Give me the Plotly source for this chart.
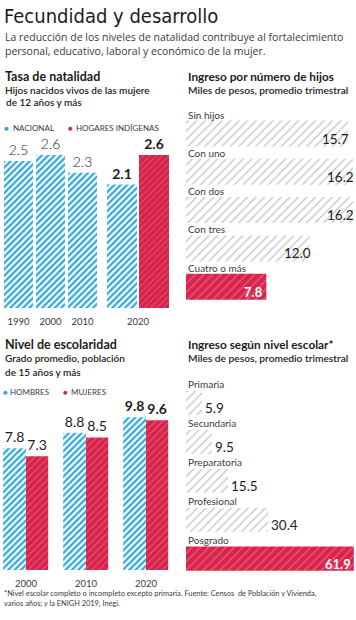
import plotly.graph_objects as go

# ---------------- data ----------------
nat_years = ["1990", "2000", "2010", "2020"]
nat_nacional = [2.5, 2.6, 2.3, 2.1]
nat_ind_years = ["2020"]
nat_indigena = [2.6]

hijos_cats = ["Sin hijos", "Con uno", "Con dos", "Con tres", "Cuatro o más"]
hijos_ingreso = [15.7, 16.2, 16.2, 12.0, 7.8]

esc_years = ["2000", "2010", "2020"]
esc_hombres = [7.8, 8.8, 9.8]
esc_mujeres = [7.3, 8.5, 9.6]

nivel_cats = ["Primaria", "Secundaria", "Preparatoria", "Profesional", "Posgrado"]
nivel_ingreso = [5.9, 9.5, 15.5, 30.4, 61.9]

# ---------------- style ----------------
W, H = 356, 620
def fx(p): return p / W
def fy(p): return 1 - p / H

CYAN = "#2ea8dc"
RED = "#d8234a"
RED_STRIPE = "#e8607d"
GRAY_STRIPE = "#c2c2c2"
TXT = "#1c1c1c"
SUB = "#3a3a3a"
FONT = "Lato"
SUBFONT = "Open Sans"
TITLE_FONT = "Liberation Sans Narrow, DejaVu Sans Condensed, DejaVu Sans, sans-serif"

def cyan_marker():
    return dict(color="white", line=dict(width=0),
                pattern=dict(shape="/", fgcolor=CYAN, bgcolor="white", size=4.5,
                             solidity=0.5, fillmode="replace"))

def red_marker(size=5):
    return dict(color=RED, line=dict(width=0),
                pattern=dict(shape="/", fgcolor=RED_STRIPE, bgcolor=RED, size=size,
                             solidity=0.2, fillmode="replace"))

def gray_marker(size=6):
    return dict(color="white", line=dict(width=0),
                pattern=dict(shape="/", fgcolor=GRAY_STRIPE, bgcolor="white", size=size,
                             solidity=0.2, fillmode="replace"))

def label_text(vals, bold_idx):
    return [f"<b>{v:.1f}</b>" if i in bold_idx else f"{v:.1f}" for i, v in enumerate(vals)]

fig = go.Figure()

# ---- Tasa de natalidad ----
n_hist = len(nat_years) - 1
fig.add_trace(go.Bar(
    x=nat_years[:n_hist], y=nat_nacional[:n_hist], xaxis="x", yaxis="y",
    width=0.906, offset=-0.453, marker=cyan_marker(),
    text=label_text(nat_nacional[:n_hist], []), textposition="outside",
    textfont=dict(family=FONT, size=14, color=TXT, weight=300),
    constraintext="none", cliponaxis=False, showlegend=False, hoverinfo="skip"))
fig.add_trace(go.Bar(
    x=nat_years[n_hist:], y=nat_nacional[n_hist:], xaxis="x2", yaxis="y",
    width=0.9375, offset=-0.969, marker=cyan_marker(),
    text=label_text(nat_nacional[n_hist:], [0]), textposition="outside",
    textfont=dict(family=FONT, size=14, color=TXT),
    constraintext="none", cliponaxis=False, showlegend=False, hoverinfo="skip"))
fig.add_trace(go.Bar(
    x=nat_ind_years, y=nat_indigena, xaxis="x2", yaxis="y",
    width=0.9375, offset=0.031, marker=red_marker(4.5),
    text=label_text(nat_indigena, [0]), textposition="outside",
    textfont=dict(family=FONT, size=14, color=TXT),
    constraintext="none", cliponaxis=False, showlegend=False, hoverinfo="skip"))

# ---- Nivel de escolaridad ----
last = len(esc_years) - 1
fig.add_trace(go.Bar(
    x=esc_years, y=esc_hombres, xaxis="x3", yaxis="y3",
    width=0.38, offset=-0.38, marker=cyan_marker(),
    text=label_text(esc_hombres, [last]), textposition="outside",
    textfont=dict(family=FONT, size=14, color=TXT),
    constraintext="none", cliponaxis=False, showlegend=False, hoverinfo="skip"))
fig.add_trace(go.Bar(
    x=esc_years, y=esc_mujeres, xaxis="x3", yaxis="y3",
    width=0.37, offset=0.0, marker=red_marker(5),
    text=label_text(esc_mujeres, [last]), textposition="outside",
    textfont=dict(family=FONT, size=14, color=TXT),
    constraintext="none", cliponaxis=False, showlegend=False, hoverinfo="skip"))

# ---- horizontal bars (gray for all but last, red for last) ----
def hbars(cats, vals, xa, ya, width):
    fig.add_trace(go.Bar(x=vals[:-1], y=cats[:-1], orientation="h", xaxis=xa, yaxis=ya,
                         width=width, marker=gray_marker(6), showlegend=False, hoverinfo="skip"))
    fig.add_trace(go.Bar(x=vals[-1:], y=cats[-1:], orientation="h", xaxis=xa, yaxis=ya,
                         width=width, marker=red_marker(6), showlegend=False, hoverinfo="skip"))

hbars(hijos_cats, hijos_ingreso, "x4", "y4", 0.68)
hbars(nivel_cats, nivel_ingreso, "x5", "y5", 0.62)

ann = []
def A(text, x, y, size, color=TXT, weight=None, family=FONT, xanchor="left", yanchor="middle"):
    f = dict(family=family, size=size, color=color)
    if weight:
        f["weight"] = weight
    ann.append(dict(text=text, x=fx(x), y=fy(y), xref="paper", yref="paper",
                    xanchor=xanchor, yanchor=yanchor, showarrow=False, font=f, align="left"))

# header
A("Fecundidad y desarrollo", 2, 16, 20, TXT, family=TITLE_FONT)
A("La reducción de los niveles de natalidad contribuye al fortalecimiento<br>"
  "personal, educativo, laboral y económico de la mujer.", 3, 44, 10.5, SUB, family=SUBFONT)

# left top
A("Tasa de natalidad", 3, 77, 12.5, TXT, weight="bold")
A("Hijos nacidos vivos de las mujere", 3, 90, 10, TXT, weight=600)
A("de 12 años y más", 4, 102, 10, TXT, weight=600)
A("●", 2, 128, 8, CYAN)
A("NACIONAL", 11, 128, 8, SUB)
A("●", 66, 128, 8, RED)
A("HOGARES INDÍGENAS", 74, 128, 8, SUB)

# right top
A("Ingreso por número de hijos", 186, 77, 11.8, TXT, weight="bold")
A("Miles de pesos, promedio trimestral", 186, 90, 10.2, TXT, weight=600)

# left bottom
A("Nivel de escolaridad", 3, 344, 12.5, TXT, weight="bold")
A("Grado promedio, población", 3, 358, 10, TXT, weight=600)
A("de 15 años y más", 3, 372, 10, TXT, weight=600)
A("●", 1, 392, 8, CYAN)
A("HOMBRES", 8, 392, 8, SUB)
A("●", 61, 392, 8, RED)
A("MUJERES", 69, 392, 8, SUB)

# right bottom
A("Ingreso según nivel escolar*", 186, 344, 11.8, TXT, weight="bold")
A("Miles de pesos, promedio trimestral", 186, 358, 10.2, TXT, weight=600)

# footnote
A("*Nivel escolar completo o incompleto excepto primaria. Fuente: Censos  de Población y Vivienda,<br>"
  "varios años; y la ENIGH 2019, Inegi.", 2, 598, 7.4, SUB)

# category labels and values on horizontal charts
def hlabels(cats, vals, xa, ya, inside_first):
    n = len(cats)
    for i, (c, v) in enumerate(zip(cats, vals)):
        ann.append(dict(text=c, x=0, y=c, xref=xa, yref=ya, xanchor="left", yanchor="middle",
                        xshift=0, yshift=19, showarrow=False,
                        font=dict(family=FONT, size=10, color=SUB)))
        if i == n - 1:
            ann.append(dict(text=f"<b>{v:.1f}</b>", x=v, y=c, xref=xa, yref=ya, xanchor="right",
                            yanchor="middle", xshift=-1, yshift=-5, showarrow=False,
                            font=dict(family=FONT, size=13, color="white")))
        elif inside_first:
            ann.append(dict(text=f"{v:.1f}", x=v, y=c, xref=xa, yref=ya, xanchor="right",
                            yanchor="middle", xshift=3, yshift=-5, showarrow=False,
                            font=dict(family=FONT, size=13.5, color=TXT)))
        else:
            ann.append(dict(text=f"{v:.1f}", x=v, y=c, xref=xa, yref=ya, xanchor="left",
                            yanchor="middle", xshift=1, yshift=-5, showarrow=False,
                            font=dict(family=FONT, size=13.5, color=TXT)))

hlabels(hijos_cats, hijos_ingreso, "x4", "y4", True)
hlabels(nivel_cats, nivel_ingreso, "x5", "y5", False)

tick_common = dict(type="category", showgrid=False, zeroline=False, showline=False,
                   ticks="outside", ticklen=5, tickcolor="rgba(0,0,0,0)",
                   tickfont=dict(family=FONT, size=9.5, color=SUB), fixedrange=True)
hidden = dict(visible=False, showgrid=False, zeroline=False, fixedrange=True)

fig.update_layout(
    width=W, height=H, margin=dict(l=0, r=0, t=0, b=0),
    paper_bgcolor="white", plot_bgcolor="rgba(0,0,0,0)",
    barmode="overlay", showlegend=False, font=dict(family=FONT),
    xaxis=dict(domain=[0, fx(100)], range=[-0.578, 2.547], anchor="y",
               categoryarray=nat_years[:n_hist], **tick_common),
    xaxis2=dict(domain=[fx(102), fx(176)], range=[-1.125, 1.1875], anchor="y",
                categoryarray=nat_ind_years, **tick_common),
    yaxis=dict(domain=[fy(308), fy(140)], range=[0, 2.857], anchor="x", **hidden),
    xaxis3=dict(domain=[0, fx(176)], range=[-0.433, 2.5], anchor="y3",
                categoryarray=esc_years, **tick_common),
    yaxis3=dict(domain=[fy(570), fy(400)], range=[0, 10.9], anchor="x3", **hidden),
    xaxis4=dict(domain=[fx(186), 1], range=[0, 16.5], anchor="y4", **hidden),
    yaxis4=dict(domain=[fy(305.85), fy(114.35)], type="category", categoryarray=hijos_cats,
                range=[4.5, -0.5], anchor="x4", **hidden),
    xaxis5=dict(domain=[fx(186), 1], range=[0, 62.7], anchor="y5", **hidden),
    yaxis5=dict(domain=[fy(578.05), fy(383.55)], type="category", categoryarray=nivel_cats,
                range=[4.5, -0.5], anchor="x5", **hidden),
    annotations=ann,
)

fig.write_html("out.html", config={"displayModeBar": False},
               post_script="document.body.style.margin='0';document.body.style.padding='0';")
